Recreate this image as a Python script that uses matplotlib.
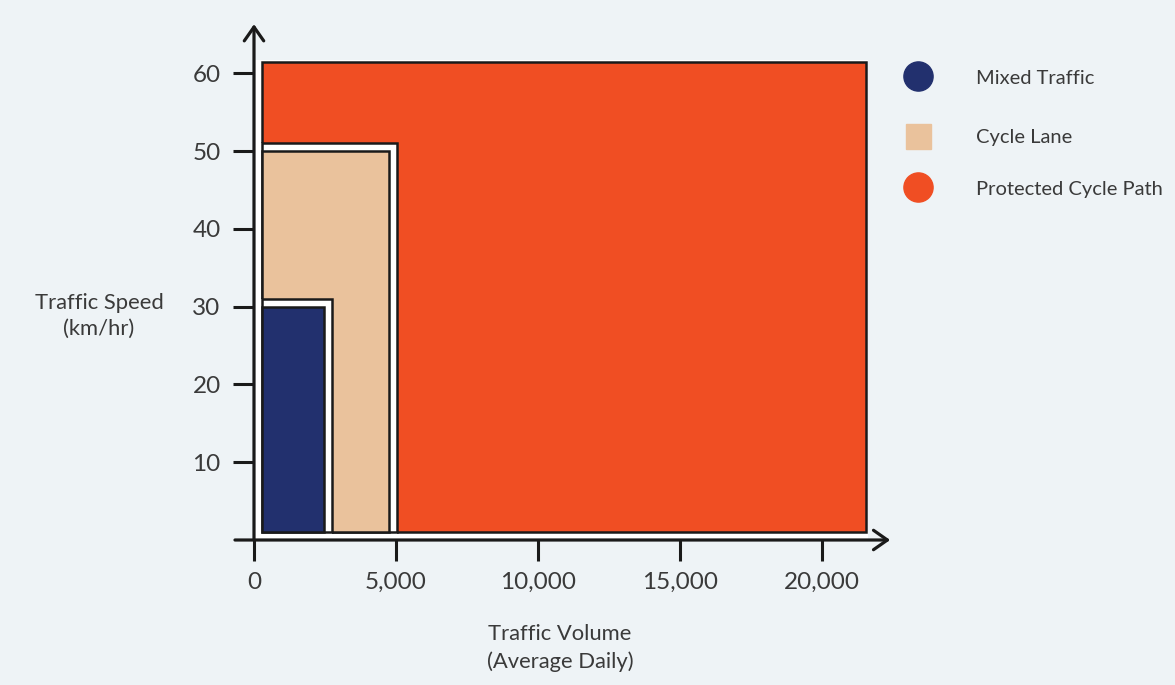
import matplotlib
matplotlib.use("Agg")
import matplotlib.pyplot as plt
from matplotlib.patches import Rectangle
from matplotlib.lines import Line2D

# Facility zones: upper limits of traffic volume (vehicles/day) and speed (km/hr)
zones = ["Mixed Traffic", "Cycle Lane", "Protected Cycle Path"]
volume_limits = [2450, 4750, 21550]
speed_limits = [30, 50, 61.5]
zone_colors = ["#22306e", "#eac29c", "#f04e23"]

x_ticks = [0, 5000, 10000, 15000, 20000]
x_tick_labels = ["0", "5,000", "10,000", "15,000", "20,000"]
y_ticks = [10, 20, 30, 40, 50, 60]
y_tick_labels = ["10", "20", "30", "40", "50", "60"]

BG = "#eef3f6"
TEXT = "#3a3a3a"
EDGE = "#1a1a1a"
plt.rcParams["font.family"] = ["Lato", "DejaVu Sans"]

W, H = 1175, 685
fig = plt.figure(figsize=(W / 100, H / 100), dpi=100, facecolor=BG)

xlim = (-800, 22600)
ylim = (-3, 67)
# axes placed so that the origin sits at (254, 540) px
px_per_x = 0.0284
px_per_y = 7.78
left_px = 254 + xlim[0] * px_per_x
right_px = 254 + xlim[1] * px_per_x
bottom_px = 540 - ylim[0] * px_per_y
top_px = 540 - ylim[1] * px_per_y
ax = fig.add_axes([left_px / W, (H - bottom_px) / H,
                   (right_px - left_px) / W, (bottom_px - top_px) / H])
ax.set_facecolor("none")
ax.set_xlim(*xlim)
ax.set_ylim(*ylim)

gap_x = 8 / px_per_x
gap_y = 8 / px_per_y
edge_lw = 1.8

# draw widest zone first, narrower zones nested on top of it
n = len(zones)
for k, i in enumerate(reversed(range(n))):
    vx, vy = volume_limits[i], speed_limits[i]
    z = 2 + 3 * k
    if i == n - 1:
        # white margin between the axes and the outermost zone
        ax.add_patch(Rectangle((0, 0), vx + 2 / px_per_x, vy + 2 / px_per_y,
                               facecolor="white", edgecolor="none", zorder=z))
    else:
        # white notch cut out of the enclosing zone, outlined in black
        ax.add_patch(Rectangle((0, 0), vx + gap_x, vy + gap_y,
                               facecolor="white", edgecolor="none", zorder=z))
        ax.add_patch(Rectangle((gap_x, gap_y), vx, vy,
                               facecolor="none", edgecolor=EDGE,
                               lw=edge_lw, zorder=z + 0.5))
    ax.add_patch(Rectangle((gap_x, gap_y), vx - gap_x, vy - gap_y,
                           facecolor=zone_colors[i], edgecolor=EDGE,
                           lw=edge_lw, zorder=z + 1))

# axis lines with open arrow heads
for sp in ax.spines.values():
    sp.set_visible(False)
ax.spines["left"].set_position(("data", 0))
ax.spines["bottom"].set_position(("data", 0))

arrow = dict(arrowstyle="->, head_length=0.5, head_width=0.35",
             lw=2.3, color=EDGE, shrinkA=0, shrinkB=0, mutation_scale=20)
ax.annotate("", xy=(22400, 0), xytext=(-670, 0), arrowprops=arrow,
            zorder=20, annotation_clip=False)
ax.annotate("", xy=(0, 66.3), xytext=(0, 0), arrowprops=arrow,
            zorder=20, annotation_clip=False)

ax.set_xticks(x_ticks)
ax.set_xticklabels(x_tick_labels)
ax.set_yticks(y_ticks)
ax.set_yticklabels(y_tick_labels)
ax.tick_params(axis="x", direction="out", length=15, width=2.2,
               color=EDGE, pad=8, labelsize=17.5, labelcolor=TEXT)
ax.tick_params(axis="y", direction="out", length=15, width=2.2,
               color=EDGE, pad=9, labelsize=17.5, labelcolor=TEXT)

# overlay in pixel coordinates for axis titles and legend
ov = fig.add_axes([0, 0, 1, 1], facecolor="none")
ov.set_xlim(0, W)
ov.set_ylim(H, 0)
ov.axis("off")

ov.text(99, 316, "Traffic Speed\n(km/hr)", ha="center", va="center",
        fontsize=15.8, color=TEXT, linespacing=1.4)
ov.text(560, 648, "Traffic Volume\n(Average Daily)", ha="center", va="center",
        fontsize=15.8, color=TEXT, linespacing=1.4)

legend_y = [76, 136, 187]
label_y = [78, 137, 189]
markers = ["o", "s", "o"]
for name, color, y, ty, m in zip(zones, zone_colors, legend_y, label_y, markers):
    ov.add_line(Line2D([917.5], [y], marker=m, markersize=21 if m == "o" else 18,
                       color=color, markeredgecolor=color, linestyle="none"))
    ov.text(976, ty, name, ha="left", va="center", fontsize=14.5, color=TEXT)

fig.savefig("out.png", dpi=100, facecolor=BG)
